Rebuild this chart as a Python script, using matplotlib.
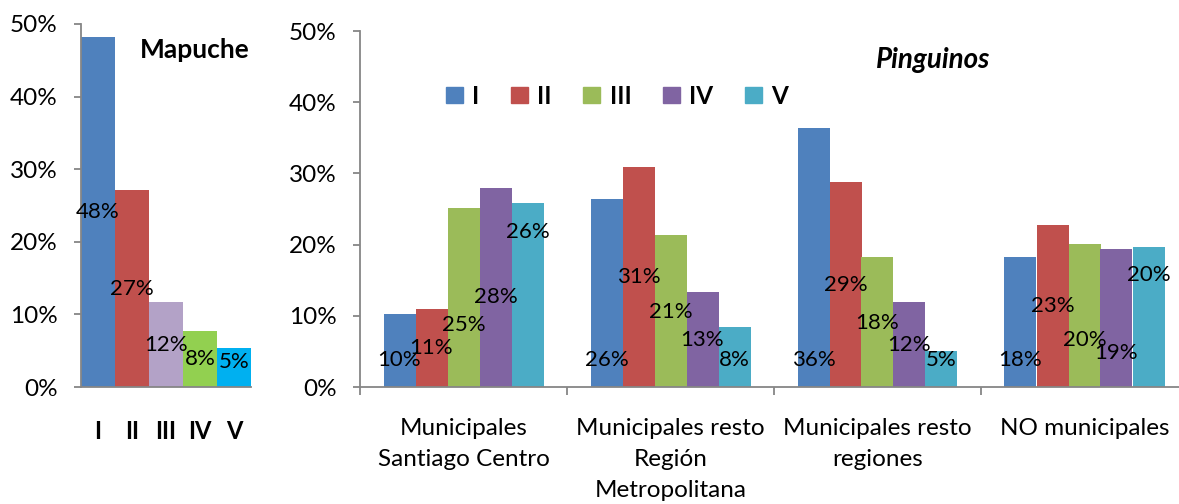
import matplotlib
matplotlib.use('Agg')
import matplotlib.pyplot as plt
from matplotlib.patches import Patch
import numpy as np

plt.rcParams['font.family'] = ['Lato', 'DejaVu Sans']

# data
quintiles = ['I', 'II', 'III', 'IV', 'V']
mapuche = [48.2, 27.1, 11.7, 7.7, 5.4]

categories = ['Municipales\nSantiago Centro',
              'Municipales resto\nRegión\nMetropolitana',
              'Municipales resto\nregiones',
              'NO municipales']
ping_I = [10.3, 26.4, 36.4, 18.3]
ping_II = [10.9, 30.9, 28.8, 22.7]
ping_III = [25.1, 21.3, 18.3, 20.1]
ping_IV = [28.0, 13.3, 11.9, 19.4]
ping_V = [25.8, 8.4, 5.0, 19.7]

# where the labels sit in the original (hand placed), in % units
lab_y = [[3.8, 3.8, 3.8, 3.8],
         [5.5, 15.5, 14.3, 11.4],
         [8.7, 10.6, 9.0, 6.6],
         [12.7, 6.6, 5.9, 4.8],
         [21.8, 3.8, 3.8, 15.7]]

col_map = ['#4F81BD', '#C0504D', '#B3A2C7', '#92D050', '#00B0F0']
col_ping = ['#4F81BD', '#C0504D', '#9BBB59', '#8064A2', '#4BACC6']
axcol = '#868686'
fs = 17.5
fs_lab = 16

fig = plt.figure(figsize=(11.79, 5.04), dpi=100)


def style(ax):
    for s in ['top', 'right']:
        ax.spines[s].set_visible(False)
    for s in ['left', 'bottom']:
        ax.spines[s].set_color(axcol)
        ax.spines[s].set_linewidth(1.3)
    ax.set_ylim(0, 50)
    ax.set_yticks(range(0, 51, 10))
    ax.set_yticklabels(['%d%%' % v for v in range(0, 51, 10)], fontsize=fs)
    ax.tick_params(axis='y', length=5, width=1.3, color=axcol, pad=12)


# left: Mapuche
ax1 = fig.add_axes([81 / 1179, 117 / 504, 170 / 1179, 363 / 504])
x = np.arange(len(quintiles))
ax1.bar(x, mapuche, width=1.0, color=col_map)
ax1.set_xlim(-0.5, 4.5)
style(ax1)
ax1.set_xticks(x)
ax1.set_xticklabels(quintiles, fontsize=17, fontweight='bold')
ax1.tick_params(axis='x', length=0, pad=24)
for i, v in enumerate(mapuche):
    ax1.text(i, max(v / 2, 3.4), '%d%%' % round(v), ha='center', va='center',
             fontsize=fs_lab)
ax1.text(2.85, 46.4, 'Mapuche', ha='center', va='center', fontsize=19,
         fontweight='bold')

# right: Pinguinos
ax2 = fig.add_axes([360 / 1179, 117 / 504, 828 / 1179, 356 / 504])
series = [ping_I, ping_II, ping_III, ping_IV, ping_V]
xc = np.arange(len(categories))
w = 32 / 207
for k, vals in enumerate(series):
    pos = xc + (k - 2) * w
    ax2.bar(pos, vals, width=w, color=col_ping[k])
    for j, v in enumerate(vals):
        ax2.text(pos[j], lab_y[k][j], '%d%%' % round(v), ha='center',
                 va='center', fontsize=fs_lab)
ax2.set_xlim(-0.5, 3.5)
style(ax2)
ax2.set_xticks(xc)
ax2.set_xticklabels(categories, fontsize=fs, linespacing=1.6)
ax2.tick_params(axis='x', length=0, pad=22)
ax2.set_xticks(np.arange(-0.5, 4, 1), minor=True)
ax2.tick_params(axis='x', which='minor', length=6, width=1.3, color=axcol)
ax2.text(933, 504 - 60, 'Pinguinos', transform=None, ha='center',
         va='center', fontsize=20, fontweight='bold', style='italic')

handles = [Patch(color=c) for c in col_ping]
fig.legend(handles, quintiles, loc='center left',
           bbox_to_anchor=(446 / 1179, 1 - 96 / 504), ncol=5, frameon=False,
           prop={'size': fs, 'weight': 'bold'}, handlelength=0.68,
           handleheight=0.68, handletextpad=0.4, columnspacing=1.3,
           borderpad=0, borderaxespad=0)

fig.savefig('out.png', dpi=100)
